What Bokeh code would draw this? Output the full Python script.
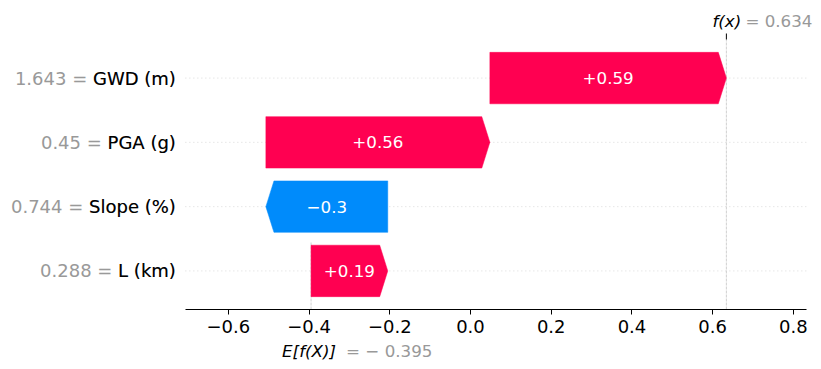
from bokeh.plotting import figure
from bokeh.models import LinearAxis, FixedTicker, Range1d, ColumnDataSource
from bokeh.core.properties import value
from bokeh.embed import file_html
from bokeh.resources import INLINE

# ---- data (bottom row first) ----
feature_names = ["L (km)", "Slope (%)", "PGA (g)", "GWD (m)"]
feature_values = ["0.288", "0.744", "0.45", "1.643"]
shap_values = [0.19, -0.302, 0.555, 0.586]
base_value = -0.395
fx_value = 0.634
x_ticks = [-0.6, -0.4, -0.2, 0.0, 0.2, 0.4, 0.6, 0.8]
x_tick_labels = ["\u22120.6", "\u22120.4", "\u22120.2", "0.0", "0.2", "0.4", "0.6", "0.8"]

# ---- style / layout ----
RED = "#ff0051"
BLUE = "#008bfb"
GRAY = "#999999"
FONT = "DejaVu Sans"
W, H = 815, 365
XMIN, XMAX = -0.7065, 0.832          # axis extent
YMIN, YMAX = -0.6, 3.6               # row area extent
SX = 403.6                           # px per x unit
ZERO_PX = 470                        # pixel of x=0
SY = 270 / (YMAX - YMIN)             # px per y unit
TOP_PX, AXIS_PX = 39, 309
X_LO = -ZERO_PX / SX
X_HI = (W - ZERO_PX) / SX
Y_HI = YMAX + TOP_PX / SY
Y_LO = YMIN - (H - AXIS_PX) / SY
BAR_W = 0.8
HEAD = 0.02

p = figure(width=W, height=H, x_range=Range1d(X_LO, X_HI), y_range=Range1d(Y_LO, Y_HI),
           output_backend="svg", toolbar_location=None,
           x_axis_location=None, y_axis_location=None, min_border=0)
p.outline_line_color = None
p.grid.visible = False
p.background_fill_color = "white"
p.border_fill_color = "white"

n = len(shap_values)
rows = list(range(n))

# dotted row guide lines
p.segment(x0=[XMIN] * n, x1=[XMAX] * n, y0=rows, y1=rows,
          line_color="#cccccc", line_width=0.7, line_dash="1 3")
# vertical dashed lines
p.segment(x0=[fx_value], x1=[fx_value], y0=[YMIN], y1=[YMAX],
          line_color="#bbbbbb", line_width=0.7, line_dash="3 1")
p.segment(x0=[base_value], x1=[base_value], y0=[YMIN], y1=[YMIN + (YMAX - YMIN) / n],
          line_color="#bbbbbb", line_width=0.7, line_dash="3 1")
# top tick at f(x)
p.segment(x0=[fx_value], x1=[fx_value], y0=[YMAX], y1=[YMAX + 6 / SY],
          line_color="black", line_width=1)

# arrows
xs, ys, colors, centers, texts = [], [], [], [], []
cur = base_value
for i, v in enumerate(shap_values):
    start, end = cur, cur + v
    cur = end
    sgn = 1 if v >= 0 else -1
    hl = min(abs(v), HEAD)
    neck = end - sgn * hl
    y = rows[i]
    xs.append([start, neck, end, neck, start])
    ys.append([y - BAR_W / 2, y - BAR_W / 2, y, y + BAR_W / 2, y + BAR_W / 2])
    colors.append(RED if v >= 0 else BLUE)
    centers.append((start + end) / 2)
    s = f"{v:+.2f}".rstrip("0").rstrip(".")
    texts.append(s.replace("-", "\u2212"))

p.patches(xs=xs, ys=ys, fill_color=colors, line_color=colors, line_width=0.5)

src = ColumnDataSource(dict(x=centers, y=rows, t=texts))
p.text(x="x", y="y", text="t", source=src, text_color="white", text_align="center",
       text_baseline="middle", text_font=value(FONT), text_font_size="16.7px")

# y labels: gray "value = name" overlaid with black name
full = [f"{v} = {nm}" for v, nm in zip(feature_values, feature_names)]
lab_src = ColumnDataSource(dict(x=[XMIN] * n, y=rows, full=full, name=feature_names))
p.text(x="x", y="y", text="full", source=lab_src, x_offset=-9.5, text_align="right",
       text_baseline="middle", text_color=GRAY, text_font=value(FONT), text_font_size="18px")
p.text(x="x", y="y", text="name", source=lab_src, x_offset=-9.5, text_align="right",
       text_baseline="middle", text_color="black", text_font=value(FONT), text_font_size="18px")

# bottom axis
ax = LinearAxis(fixed_location=YMIN, bounds=(XMIN, XMAX), ticker=FixedTicker(ticks=x_ticks))
ax.major_label_overrides = dict(zip(x_ticks, x_tick_labels))
ax.major_label_text_font = FONT
ax.major_label_text_font_size = "18px"
ax.major_label_text_color = "black"
ax.major_label_standoff = 5
ax.major_tick_in = 0
ax.major_tick_out = 5
ax.major_tick_line_width = 1
ax.minor_tick_line_color = None
ax.axis_line_width = 1.1
ax.axis_line_color = "black"
p.add_layout(ax, "below")

# f(x) and E[f(X)] annotations
fx_y = YMAX + 19 / SY
p.text(x=[fx_value], y=[fx_y], text=["f(x)"], x_offset=-14, text_align="left",
       text_baseline="middle", text_color="black", text_font=value(FONT),
       text_font_style="italic", text_font_size="16.7px")
p.text(x=[fx_value], y=[fx_y], text=[f"= {fx_value:.3f}"], x_offset=19, text_align="left",
       text_baseline="middle", text_color=GRAY, text_font=value(FONT), text_font_size="16.7px")
base_txt = ("= \u2212 " if base_value < 0 else "= ") + f"{abs(base_value):.3f}"
e_y = YMIN - 41 / SY
p.text(x=[base_value], y=[e_y], text=["E[f(X)]"], x_offset=-29, text_align="left",
       text_baseline="middle", text_color="black", text_font=value(FONT),
       text_font_style="italic", text_font_size="16.7px")
p.text(x=[base_value], y=[e_y], text=[base_txt], x_offset=35, text_align="left",
       text_baseline="middle", text_color=GRAY, text_font=value(FONT), text_font_size="16.7px")

open("out.html", "w").write(file_html(p, INLINE))
